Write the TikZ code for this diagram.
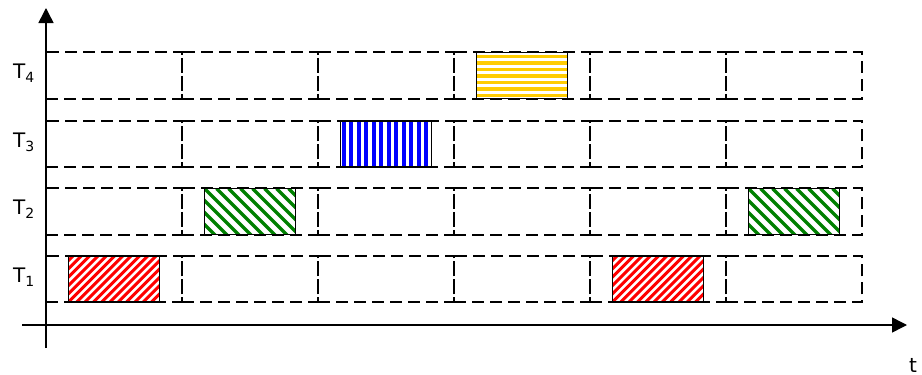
\documentclass[tikz,border=0pt]{standalone}
\usepackage{fontspec}
\setmainfont{DejaVu Sans}
\usetikzlibrary{arrows.meta}
\definecolor{tred}{HTML}{FF0000}
\definecolor{tgreen}{HTML}{008000}
\definecolor{tblue}{HTML}{0000FF}
\definecolor{tyellow}{HTML}{FFCC00}
\tikzset{
  cell/.style={draw=black, line width=1.7pt, dash pattern=on 12pt off 6pt,
    minimum width=136pt, minimum height=46.5pt, inner sep=0pt},
  task/.style={draw=black, line width=1.6pt, minimum width=91pt,
    minimum height=46pt, inner sep=0pt},
  redtask/.style={task, path picture={
    \foreach \i in {-7,...,12}{\draw[tred, line width=3pt]
      ([xshift=\i*8.3pt]path picture bounding box.south west) -- ++(60pt,60pt);}}},
  greentask/.style={task, path picture={
    \foreach \i in {-6,...,9}{\draw[tgreen, line width=3.2pt]
      ([xshift=\i*12pt]path picture bounding box.north west) -- ++(60pt,-60pt);}}},
  bluetask/.style={task, path picture={
    \foreach \i in {0,...,12}{\draw[tblue, line width=4pt]
      ([xshift=3pt+\i*7.5pt]path picture bounding box.south west) -- ++(0pt,50pt);}}},
  yellowtask/.style={task, path picture={
    \foreach \i in {0,...,7}{\draw[tyellow, line width=3.6pt]
      ([yshift=3pt+\i*6.5pt]path picture bounding box.south west) -- ++(100pt,0pt);}}},
  axis/.style={line width=1.5pt, -{Triangle[width=15pt,length=15pt]}},
  lbl/.style={anchor=base west, inner sep=0pt, font=\fontsize{20}{20}\selectfont}
}
\newcommand{\subidx}[1]{\raisebox{-4pt}{\fontsize{14}{14}\selectfont #1}}
\begin{document}
\begin{tikzpicture}[x=1pt,y=-1pt]
\useasboundingbox (0,0) rectangle (922,375);
% cells
\foreach \r/\yy in {4/75.5,3/144,2/211.5,1/279}{
  \foreach \c in {0,...,5}{
    \node[cell] (c\r\c) at ({114+136*\c},\yy) {};
  }
}
% tasks
\node[redtask] (t1a) at (c10) {};
\node[redtask] (t1b) at (c14) {};
\node[greentask] (t2a) at (c21) {};
\node[greentask] (t2b) at (c25) {};
\node[bluetask] (t3a) at (c32) {};
\node[yellowtask] (t4a) at (c43) {};
% axes
\coordinate (yb) at (46,348);
\coordinate (yt) at (46,8);
\coordinate (xl) at (22,325);
\coordinate (xr) at (907,325);
\draw[axis] (yb) -- (yt);
\draw[axis] (xl) -- (xr);
% labels
\node[lbl] (l4) at (13,78) {T\subidx{4}};
\node[lbl] (l3) at (13,147) {T\subidx{3}};
\node[lbl] (l2) at (13,214) {T\subidx{2}};
\node[lbl] (l1) at (13,282) {T\subidx{1}};
\node[lbl] (lt) at (909,372) {t};
\end{tikzpicture}
\end{document}
